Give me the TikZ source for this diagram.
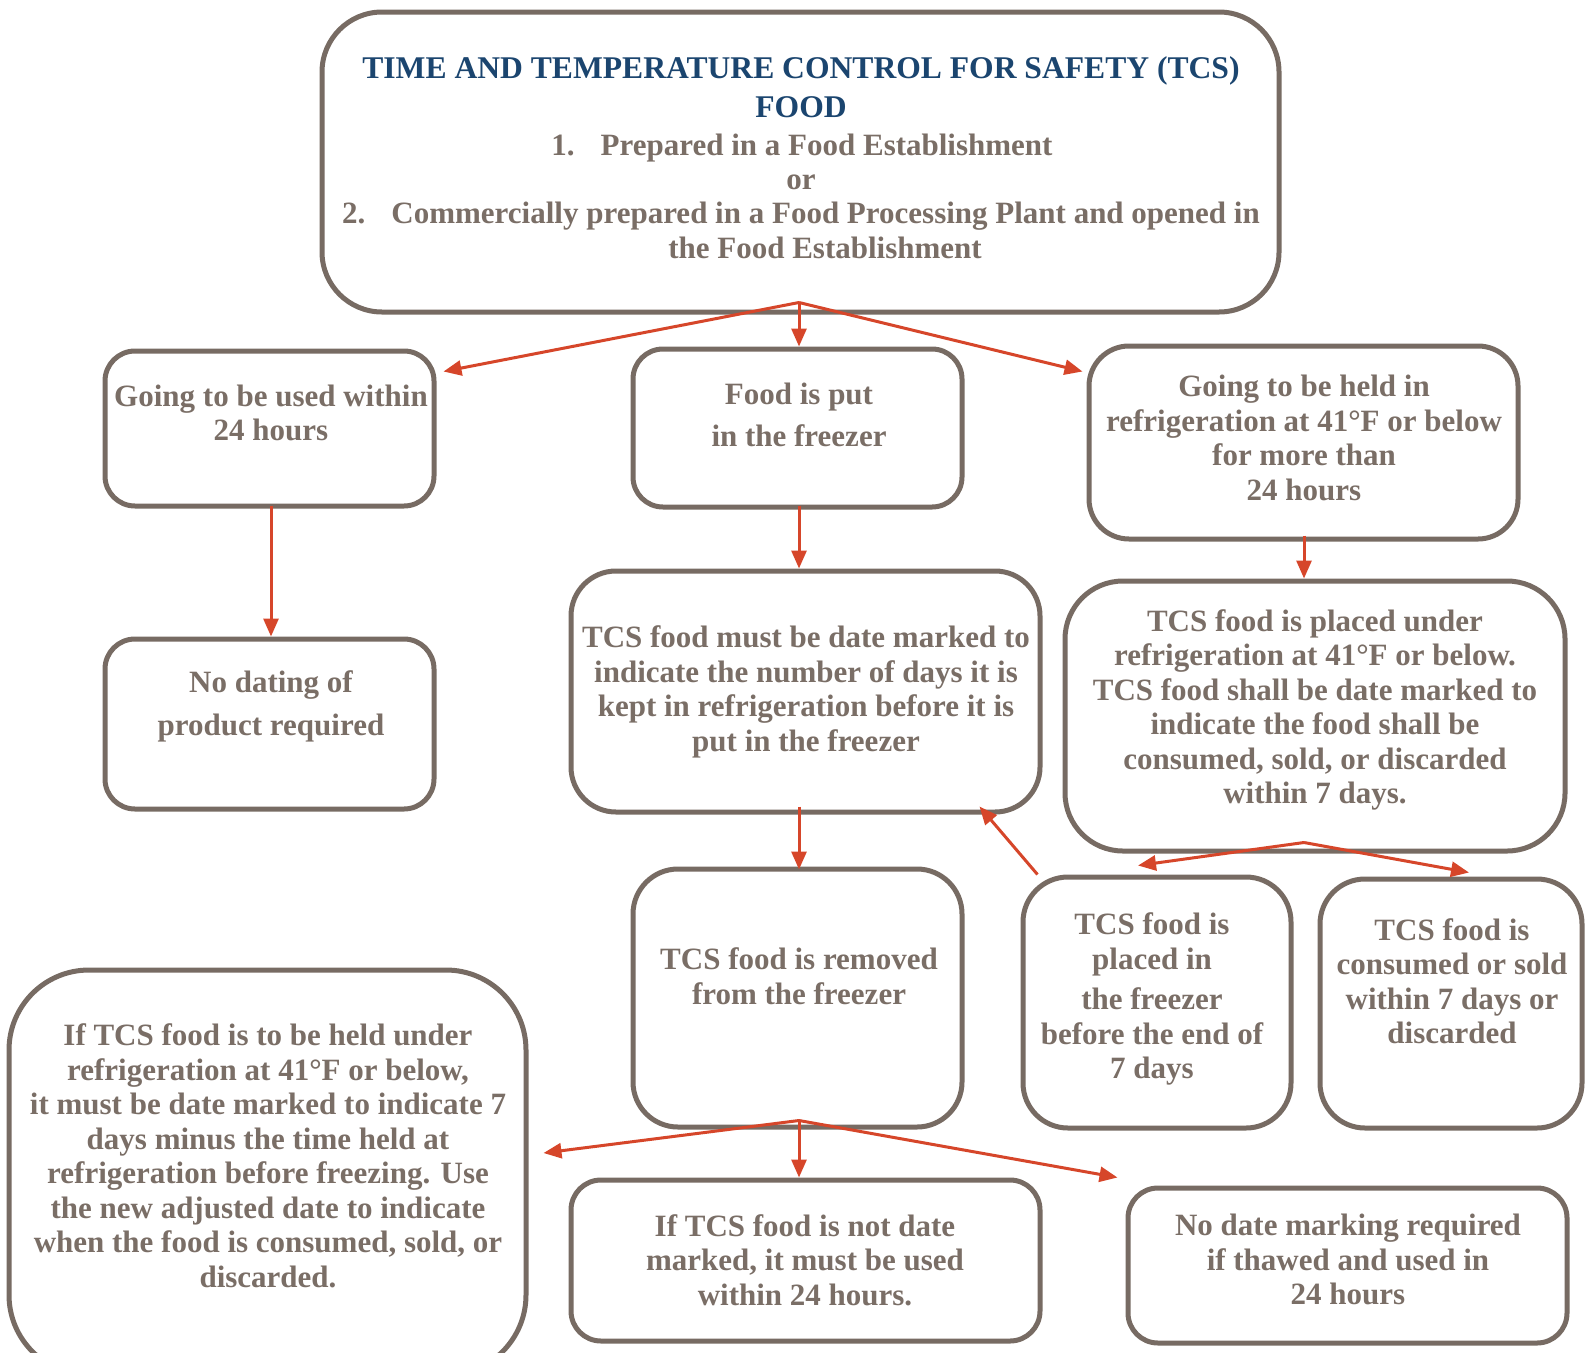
\documentclass[tikz,border=0pt]{standalone}
\usepackage{fontspec}
\setmainfont{Liberation Serif}
\usetikzlibrary{arrows.meta,calc}
\definecolor{boxgray}{HTML}{776B63}
\definecolor{txtgray}{HTML}{7A6E66}
\definecolor{titleblue}{HTML}{1B456F}
\definecolor{arrred}{HTML}{D6462A}
\begin{document}
\begin{tikzpicture}[x=1pt,y=-1pt,
  box/.style={draw=boxgray, fill=white, line width=5pt, rounded corners=30pt, inner sep=0pt},
  txt/.style={text=txtgray, font=\bfseries\fontsize{31}{34.5}\selectfont, align=center, inner sep=0pt},
  ttl/.style={text=titleblue, font=\bfseries\fontsize{31.6}{39}\selectfont, align=center, inner sep=0pt},
  arr/.style={draw=arrred, line width=3pt, -{Triangle[length=18pt,width=15pt]}}]
\useasboundingbox (0,0) rectangle (1586,1352);
\clip (0,0) rectangle (1586,1352);
% boxes
\node[box, rounded corners=60pt, minimum width=957pt, minimum height=300pt] (b1) at (800.5,162) {};
\node[box, minimum width=329pt, minimum height=155pt] (b2) at (269.5,428.5) {};
\node[box, minimum width=329pt, minimum height=158pt] (b3) at (797.5,428) {};
\node[box, rounded corners=40pt, minimum width=429pt, minimum height=193pt] (b4) at (1303.5,442.5) {};
\node[box, minimum width=329pt, minimum height=170pt] (b5) at (269.5,724) {};
\node[box, rounded corners=45pt, minimum width=469pt, minimum height=241pt] (b6) at (805.5,691.5) {};
\node[box, rounded corners=58pt, minimum width=500pt, minimum height=270pt] (b7) at (1315,716) {};
\node[box, rounded corners=45pt, minimum width=329pt, minimum height=258pt] (b8) at (797.5,998) {};
\node[box, rounded corners=45pt, minimum width=268pt, minimum height=251pt] (b9) at (1157,1002.5) {};
\node[box, rounded corners=45pt, minimum width=262pt, minimum height=249pt] (b10) at (1451,1003.5) {};
\node[box, rounded corners=80pt, minimum width=517pt, minimum height=405pt] (b11) at (267.5,1172.5) {};
\node[box, minimum width=469pt, minimum height=161pt] (b12) at (805.5,1260.5) {};
\node[box, minimum width=439pt, minimum height=155pt] (b13) at (1347.5,1265.5) {};
% title texts
\node[ttl, anchor=base] (t1) at (801,78) {TIME AND TEMPERATURE CONTROL FOR SAFETY (TCS)};
\node[ttl, anchor=base] (t2) at (801,117) {FOOD};
\node[txt, anchor=base] (t3) at (802,155) {1.\hspace{26pt}Prepared in a Food Establishment};
\node[txt, anchor=base] (t4) at (801,189) {or};
\node[txt, anchor=base] (t5) at (801,223) {2.\hspace{26pt}Commercially prepared in a Food Processing Plant and opened in};
\node[txt, anchor=base] (t6) at (825,258) {the Food Establishment};
% box texts
\node[txt] (x2) at (271,413) {Going to be used within\\24 hours};
\node[txt] (x3) at (799,415) {Food is put\\[7pt]in the freezer};
\node[txt] (x4) at (1304,438) {Going to be held in\\refrigeration at 41°F or below\\for more than\\24 hours};
\node[txt] (x5) at (271,706.5) {No dating of\\[8pt]product required};
\node[txt] (x6) at (806,692) {TCS food must be date marked to\\indicate the number of days it is\\kept in refrigeration before it is\\put in the freezer};
\node[txt] (x7) at (1315,710) {TCS food is placed under\\refrigeration at 41°F or below.\\TCS food shall be date marked to\\indicate the food shall be\\consumed, sold, or discarded\\within 7 days.};
\node[txt] (x8) at (799,976) {TCS food is removed\\from the freezer};
\node[txt] (x9) at (1152,999) {TCS food is\\placed in\\[6pt]the freezer\\before the end of\\7 days};
\node[txt] (x10) at (1452,981) {TCS food is\\consumed or sold\\within 7 days or\\discarded};
\node[txt] (x11) at (268,1156) {If TCS food is to be held under\\refrigeration at 41°F or below,\\it must be date marked to indicate 7\\days minus the time held at\\refrigeration before freezing. Use\\the new adjusted date to indicate\\when the food is consumed, sold, or\\discarded.};
\node[txt] (x12) at (805,1260) {If TCS food is not date\\marked, it must be used\\within 24 hours.};
\node[txt] (x13) at (1348,1259.5) {No date marking required\\if thawed and used in\\24 hours};
% branch points
\coordinate (p0) at ($(b1.south)+(-1.5,-12)$);
\coordinate (p1) at ($(b7.south)+(-11,-11)$);
\coordinate (p2) at ($(b8.south)+(1.5,-9)$);
% connectors
\draw[arr] (p0) -- ($(b2.north east)+(7,23)$);
\draw[arr] (p0) -- (p0 |- b3.north);
\draw[arr] (p0) -- ($(b4.north west)+(-4,28)$);
\draw[arr] ($(b2.south)+(1.5,-3)$) -- ($(b5.north)+(1.5,0)$);
\draw[arr] ($(b3.south)+(1.5,-4)$) -- ($(b3.south |- b6.north)+(1.5,0)$);
\draw[arr] ($(b4.south)+(0.5,-6)$) -- ($(b4.south |- b7.north)+(0.5,0)$);
\draw[arr] (p1) -- ($(b9.north)+(-19,-9)$);
\draw[arr] (p1) -- ($(b10.north)+(18,-4)$);
\draw[arr] ($(b9.north west)+(17,0)$) -- ($(b6.south east)+(-63,-8)$);
\draw[arr] ($(b6.south)+(-6.5,-8)$) -- ($(b6.south -| p2)+(0,55)$);
\draw[arr] (p2) -- ($(b11.east)+(15,-19.5)$);
\draw[arr] (p2) -- (p2 |- b12.north);
\draw[arr] (p2) -- ($(b13.north west)+(-8,-8)$);
\end{tikzpicture}
\end{document}
